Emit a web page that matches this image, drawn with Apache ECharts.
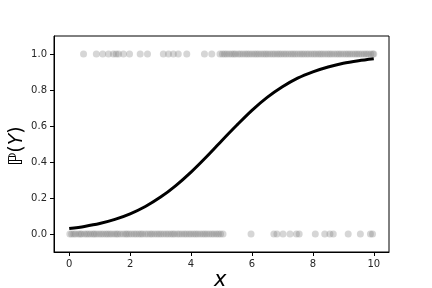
<!DOCTYPE html>
<html><head><meta charset="utf-8">
<script src="https://cdn.jsdelivr.net/npm/echarts@6/dist/echarts.min.js"></script>
<style>html,body{margin:0;padding:0;background:#fff}#c{width:432px;height:288px}</style>
</head><body><div id="c"></div>
<script>
// Observations with outcome 1
const ones_x = [0.47,0.89,1.10,1.29,1.45,1.54,1.62,1.78,1.98,2.33,2.57,3.09,3.26,3.42,3.58,3.86,4.44,4.68,
  4.95,5.03,5.10,5.17,5.25,5.33,5.40,5.46,5.55,5.62,5.70,5.78,5.85,5.92,6.00,6.08,6.15,6.22,6.30,6.38,6.45,6.52,
  6.60,6.68,6.75,6.83,6.90,6.97,7.05,7.12,7.20,7.28,7.35,7.42,7.50,7.58,7.65,7.72,7.80,7.87,7.95,8.03,8.10,8.18,
  8.25,8.32,8.40,8.48,8.55,8.62,8.70,8.78,8.85,8.92,9.00,9.08,9.15,9.22,9.30,9.38,9.45,9.52,9.60,9.68,9.75,9.82,9.90,9.97,10.0];
// Observations with outcome 0
const zeros_x = [0.02,0.08,0.15,0.21,0.30,0.36,0.41,0.50,0.57,0.63,0.70,0.78,0.83,0.90,0.98,1.05,1.12,1.20,1.26,1.33,
  1.40,1.48,1.55,1.60,1.68,1.77,1.85,1.90,1.97,2.05,2.13,2.20,2.28,2.35,2.41,2.50,2.58,2.66,2.72,2.80,2.88,2.95,3.02,
  3.10,3.18,3.25,3.33,3.40,3.46,3.55,3.62,3.70,3.78,3.85,3.93,4.00,4.08,4.15,4.22,4.30,4.38,4.45,4.52,4.60,4.68,4.75,
  4.83,4.90,4.97,5.05,
  5.97,6.72,6.82,7.02,7.25,7.46,7.55,8.08,8.39,8.56,8.67,9.16,9.56,9.89,9.96];
// Fitted probability curve
const curve_x = [0,0.5,1,1.5,2,2.5,3,3.5,4,4.5,5,5.5,6,6.5,7,7.5,8,8.5,9,9.5,10];
const curve_p = [0.030,0.042,0.058,0.081,0.112,0.153,0.205,0.269,0.344,0.428,0.517,0.604,0.687,0.759,0.818,0.866,0.901,0.928,0.949,0.963,0.974];
const xTicks = [0,2,4,6,8,10];
const yTicks = [0,0.2,0.4,0.6,0.8,1.0];

const chart = echarts.init(document.getElementById('c'), null, {renderer:'canvas'});
const ptColor = 'rgba(128,128,128,0.4)';
const font = 'DejaVu Sans';
chart.setOption({
  animation:false,
  grid:{left:54,right:43,top:36,bottom:36,show:true,borderColor:'#000',borderWidth:1,backgroundColor:'transparent'},
  xAxis:{type:'value',min:-0.5,max:10.5,splitLine:{show:false},
    axisLine:{show:true,onZero:false,lineStyle:{color:'#000',width:1}},
    axisTick:{show:true,length:4,customValues:xTicks,lineStyle:{color:'#000'}},
    axisLabel:{customValues:xTicks,color:'#262626',fontFamily:font,fontSize:10,margin:7}},
  yAxis:{type:'value',min:-0.1,max:1.1,splitLine:{show:false},
    axisLine:{show:true,onZero:false,lineStyle:{color:'#000',width:1}},
    axisTick:{show:true,length:4,customValues:yTicks,lineStyle:{color:'#000'}},
    axisLabel:{customValues:yTicks,color:'#262626',fontFamily:font,fontSize:10,margin:7,formatter:v=>v.toFixed(1)}},
  series:[
    {type:'scatter',data:ones_x.map(x=>[x,1]),symbolSize:7,itemStyle:{color:ptColor},z:2},
    {type:'scatter',data:zeros_x.map(x=>[x,0]),symbolSize:7,itemStyle:{color:ptColor},z:2},
    {type:'line',data:curve_x.map((x,i)=>[x,curve_p[i]]),smooth:0.3,showSymbol:false,
      lineStyle:{color:'#000',width:3},z:3}
  ],
  graphic:[
    {type:'text',left:214,top:270,style:{text:'x',font:'italic 21px "DejaVu Sans"',fill:'#000'}},
    {type:'text',x:8,y:166,rotation:Math.PI/2,
      style:{text:'{a|ℙ(}{b|Y}{a|)}',rich:{a:{fontFamily:font,fontSize:19,fill:'#000'},b:{fontFamily:font,fontSize:19,fontStyle:'italic',fill:'#000'}}}}
  ]
});
</script></body></html>
